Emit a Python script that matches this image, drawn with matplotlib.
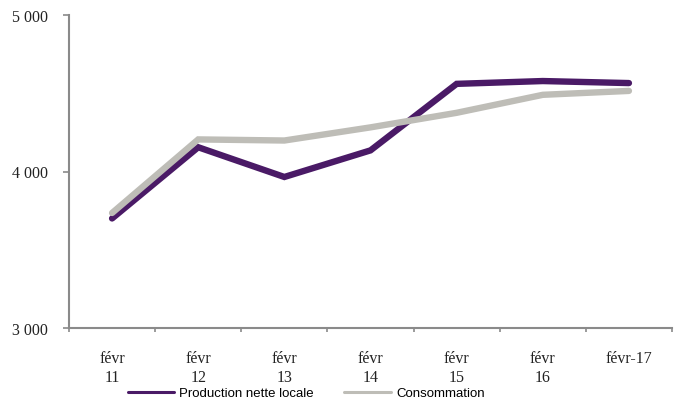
import numpy as np
import matplotlib.pyplot as plt

categories = ["févr\n11", "févr\n12", "févr\n13", "févr\n14", "févr\n15", "févr\n16", "févr-17"]
production = [3700, 4155, 3965, 4135, 4560, 4578, 4565]
consommation = [3735, 4205, 4198, 4282, 4375, 4490, 4515]
yticks = [3000, 4000, 5000]
ytick_labels = ["3 000", "4 000", "5 000"]

purple = "#4a1a66"
grey = "#bebdb7"
axis_col = "#8a8a8a"

fig = plt.figure(figsize=(6.75, 4.06), dpi=100, facecolor="white")
ax = fig.add_axes([69 / 675, 1 - 329 / 406, 603 / 675, 313 / 406])

x = np.arange(len(categories))
ax.plot(x, production, color=purple, lw=4.6, solid_capstyle="round",
        solid_joinstyle="miter", label="Production nette locale", zorder=2)
ax.plot(x, consommation, color=grey, lw=4.6, solid_capstyle="round",
        solid_joinstyle="miter", label="Consommation", zorder=3)

ax.set_xlim(-0.5, len(categories) - 0.5)
ax.set_ylim(3000, 5000)

for s in ("top", "right"):
    ax.spines[s].set_visible(False)
for s in ("left", "bottom"):
    ax.spines[s].set_color(axis_col)
    ax.spines[s].set_linewidth(1.5)

ax.set_yticks(yticks)
ax.set_yticklabels(ytick_labels, family="Liberation Serif", fontsize=11.5, color="#222222")
ax.tick_params(axis="y", direction="out", length=4, width=1.2, color=axis_col, pad=11)

ax.set_xticks(x)
ax.set_xticklabels(categories, family="Liberation Serif", fontsize=11.5, color="#222222",
                   linespacing=1.2)
ax.tick_params(axis="x", which="major", length=0, pad=16)
ax.set_xticks(np.arange(-0.5, len(categories), 1.0), minor=True)
ax.tick_params(axis="x", which="minor", direction="out", length=3, width=1.2, color=axis_col)

leg = fig.legend(loc="center left", bbox_to_anchor=(128 / 675, 1 - 394 / 406), ncol=2,
                 frameon=False, borderpad=0, borderaxespad=0,
                 prop={"family": "Liberation Sans", "size": 9.5},
                 handlelength=3.5, handletextpad=0.4, columnspacing=2.3)
for h in leg.get_lines():
    h.set_linewidth(2.2)

fig.savefig("out.png", dpi=100, facecolor="white")
